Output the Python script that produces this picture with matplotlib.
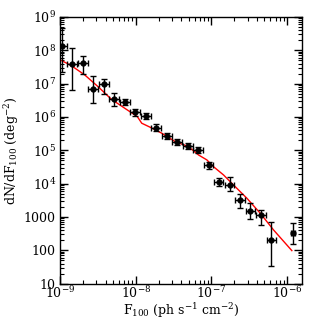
import matplotlib
matplotlib.use('Agg')
import matplotlib.pyplot as plt
import numpy as np
from matplotlib.ticker import LogLocator, NullFormatter

plt.rcParams['font.family'] = 'DejaVu Serif'
plt.rcParams['mathtext.fontset'] = 'dejavuserif'

# measured points
flux = [1.05e-9, 1.44e-9, 2.01e-9, 2.73e-9, 3.78e-9, 5.22e-9, 7.16e-9, 9.8e-9,
        1.35e-8, 1.86e-8, 2.57e-8, 3.48e-8, 4.92e-8, 6.67e-8, 9.17e-8, 1.24e-7,
        1.73e-7, 2.40e-7, 3.27e-7, 4.53e-7, 6.18e-7, 1.19e-6]
dnds = [1.35e8, 3.9e7, 4.08e7, 6.9e6, 9.57e6, 3.47e6, 2.76e6, 1.36e6,
        1.07e6, 4.77e5, 2.75e5, 1.74e5, 1.38e5, 1.0e5, 3.58e4, 1.14e4,
        9.12e3, 3.13e3, 1.51e3, 1.17e3, 204, 338]
dnds_hi = [4.7e8, 1.17e8, 6.76e7, 1.7e7, 1.38e7, 5.2e6, 3.54e6, 1.78e6,
           1.35e6, 6.0e5, 3.4e5, 2.2e5, 1.7e5, 1.25e5, 4.5e4, 1.48e4,
           1.58e4, 5.0e3, 2.7e3, 1.62e3, 724, 660]
dnds_lo = [2.24e7, 6.45e6, 1.95e7, 2.6e6, 4.9e6, 2.14e6, 2.29e6, 1.07e6,
           8.5e5, 3.8e5, 2.2e5, 1.4e5, 1.1e5, 8.0e4, 2.8e4, 8.7e3,
           6.0e3, 1.86e3, 850, 575, 34, 155]
flux_lo = [0.91e-9, 1.24e-9, 1.73e-9, 2.35e-9, 3.26e-9, 4.5e-9, 6.17e-9, 8.45e-9,
           1.16e-8, 1.6e-8, 2.21e-8, 3.0e-8, 4.24e-8, 5.75e-8, 7.9e-8, 1.07e-7,
           1.49e-7, 2.07e-7, 2.82e-7, 3.9e-7, 5.33e-7, 1.11e-6]
flux_hi = [1.22e-9, 1.67e-9, 2.33e-9, 3.17e-9, 4.38e-9, 6.05e-9, 8.3e-9, 1.14e-8,
           1.57e-8, 2.16e-8, 2.98e-8, 4.04e-8, 5.7e-8, 7.74e-8, 1.06e-7, 1.44e-7,
           2.0e-7, 2.78e-7, 3.79e-7, 5.25e-7, 7.17e-7, 1.28e-6]

# model curve
model_x = [1e-9, 1.41e-9, 2.12e-9, 3.18e-9, 4.76e-9, 7.16e-9, 1.05e-8, 1.2e-8,
           1.55e-8, 2.21e-8, 3.31e-8, 4.96e-8, 6.73e-8, 8.69e-8, 1.06e-7, 1.44e-7,
           1.95e-7, 2.93e-7, 4.40e-7, 6.59e-7, 1.15e-6]
model_y = [5.2e7, 3.46e7, 1.82e7, 8.1e6, 3.4e6, 1.82e6, 1.02e6, 6.47e5,
           4.9e5, 3.24e5, 1.82e5, 1.29e5, 7.24e4, 5.13e4, 3.23e4, 1.82e4,
           9.1e3, 3.64e3, 1.29e3, 407, 97.5]

flux = np.array(flux)
dnds = np.array(dnds)
xerr = [flux - np.array(flux_lo), np.array(flux_hi) - flux]
yerr = [dnds - np.array(dnds_lo), np.array(dnds_hi) - dnds]

fig = plt.figure(figsize=(3.19, 3.19), dpi=100)
ax = fig.add_axes([0.188, 0.111, 0.759, 0.836])

ax.plot(model_x, model_y, c='red', lw=1.0)
ax.errorbar(flux, dnds, xerr=xerr, yerr=yerr, fmt='o', c='k', ms=3.5,
            lw=1.0, capsize=2, capthick=1.0)

ax.set_xscale('log')
ax.set_yscale('log')
ax.set_xlim(1e-9, 1.57e-6)
ax.set_ylim(10, 1e9)

ax.set_xticks([1e-9, 1e-8, 1e-7, 1e-6])
ax.set_xticklabels(['$10^{-9}$', '$10^{-8}$', '$10^{-7}$', '$10^{-6}$'])
ax.set_yticks([10, 100, 1000, 1e4, 1e5, 1e6, 1e7, 1e8, 1e9])
ax.set_yticklabels(['10', '100', '1000', '$10^4$', '$10^5$', '$10^6$',
                    '$10^7$', '$10^8$', '$10^9$'])
ax.xaxis.set_minor_locator(LogLocator(base=10, subs=np.arange(2, 10), numticks=20))
ax.yaxis.set_minor_locator(LogLocator(base=10, subs=np.arange(2, 10), numticks=20))
ax.xaxis.set_minor_formatter(NullFormatter())
ax.yaxis.set_minor_formatter(NullFormatter())
ax.tick_params(which='both', direction='in', top=True, right=True, labelsize=9)
ax.tick_params(which='major', length=6, width=1)
ax.tick_params(which='minor', length=3, width=0.8)
ax.tick_params(axis='x', pad=1)
ax.tick_params(axis='y', pad=3)
for s in ax.spines.values():
    s.set_linewidth(1.0)

ax.set_xlabel('F$_{100}$ (ph s$^{-1}$ cm$^{-2}$)', fontsize=9, labelpad=0)
ax.set_ylabel('dN/dF$_{100}$ (deg$^{-2}$)', fontsize=9, labelpad=2)

fig.savefig('out.png', dpi=100)
